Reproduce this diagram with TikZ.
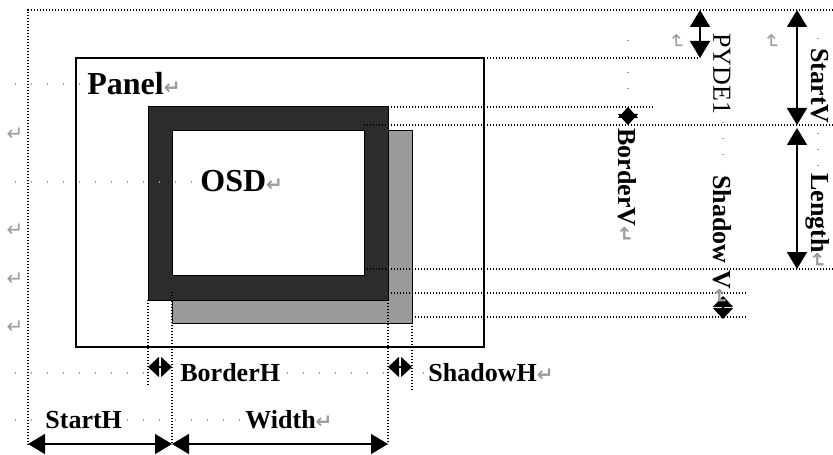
\documentclass[tikz,border=0pt]{standalone}
\usepackage{fontspec}
\setmainfont{Liberation Serif}
\newfontfamily\markfont{DejaVu Sans}
\usetikzlibrary{arrows.meta}
\definecolor{osddark}{HTML}{2C2C2C}
\definecolor{shadowgray}{HTML}{9A9A9A}
\definecolor{markgray}{HTML}{9C9C9C}

\newcommand{\retmark}{{\markfont\color{markgray}\fontsize{10}{10}\selectfont ↵}}

\begin{document}
\begin{tikzpicture}[x=0.5pt, y=-0.5pt,
  dimarr/.style={{Triangle[length=8.5pt,width=10pt]}-{Triangle[length=8.5pt,width=10pt]}, line width=0.8pt},
  tinyarr/.style={{Triangle[length=5.5pt,width=10pt]}-{Triangle[length=5.5pt,width=10pt]}, line width=0.8pt},
  guide/.style={line width=0.7pt, dash pattern=on 0.6pt off 0.9pt},
  leader/.style={markgray, line width=0.8pt, dash pattern=on 0.6pt off 7.4pt},
  lbl/.style={font=\fontsize{13}{15}\selectfont\bfseries, inner sep=0pt, anchor=west},
  biglbl/.style={font=\fontsize{16}{18}\selectfont\bfseries, inner sep=0pt, anchor=west},
  vlbl/.style={lbl, rotate=-90},
  retnode/.style={inner sep=0pt},
]
\useasboundingbox (0,0) rectangle (833,454);

% Outer frame (screen origin)
\draw[guide] (833,10) -- (28,10) -- (28,446);

% Panel
\draw[line width=0.75pt] (76,58) rectangle (484,347);

% OSD window: shadow, border, inner area
\draw[fill=shadowgray, line width=0.5pt] (172,131) rectangle (412,323);
\draw[fill=osddark, line width=0.5pt] (148,107) rectangle (388,300);
\draw[fill=white, line width=0.5pt] (172,131) rectangle (364,275);

% Guide lines
\draw[guide] (484,58) -- (700,58);
\draw[guide] (388,107) -- (654,107);
\draw[guide] (364,125) -- (833,125);
\draw[guide] (367,269) -- (833,269);
\draw[guide] (388,293) -- (747,293);
\draw[guide] (412,317) -- (747,317);
\draw[guide] (148,300) -- (148,386);
\draw[guide] (172,292) -- (172,444);
\draw[guide] (388,300) -- (388,444);
\draw[guide] (412,323) -- (412,390);

% Tab leaders
\draw[leader] (15,84) -- (80,84);
\draw[leader] (15,182) -- (196,182);
\draw[leader] (15,373) -- (146,373);
\draw[leader] (287,373) -- (385,373);
\draw[leader] (423,373) -- (425,373);
\draw[leader] (15,420) -- (40,420);
\draw[leader] (127,420) -- (242,420);
\draw[leader] (628,40) -- (628,100);
\draw[leader] (723,122) -- (723,170);
\draw[leader] (818,38) -- (818,42);
\draw[leader] (818,133) -- (818,170);

% Dimension end points
\coordinate (sh-l) at (28,444);
\coordinate (sh-r) at (172,444);
\coordinate (w-r) at (388,444);
\coordinate (bh-l) at (148,367);
\coordinate (bh-r) at (172,367);
\coordinate (sdh-l) at (388,367);
\coordinate (sdh-r) at (412,367);
\coordinate (py-t) at (700,10);
\coordinate (py-b) at (700,58);
\coordinate (sv-t) at (797,10);
\coordinate (sv-b) at (797,125);
\coordinate (len-t) at (797,128);
\coordinate (len-b) at (797,269);
\coordinate (bv-t) at (628,107);
\coordinate (bv-b) at (628,125);
\coordinate (sdv-t) at (723,296);
\coordinate (sdv-b) at (723,319);

% Dimension arrows
\draw[dimarr] (sh-l) -- (sh-r);
\draw[dimarr] (sh-r) -- (w-r);
\draw[tinyarr] (bh-l) -- (bh-r);
\draw[tinyarr] (sdh-l) -- (sdh-r);
\draw[dimarr] (py-t) -- (py-b);
\draw[dimarr] (sv-t) -- (sv-b);
\draw[dimarr] (len-t) -- (len-b);
\draw[tinyarr] (bv-t) -- (bv-b);
\draw[tinyarr] (sdv-t) -- (sdv-b);

% Labels
\node[biglbl] (panellbl) at (87,84) {Panel\retmark};
\node[biglbl] (osdlbl) at (200,181) {OSD\retmark};
\node[lbl] (bhlbl) at (180,373) {BorderH};
\node[lbl] (sdhlbl) at (428,373) {ShadowH\retmark};
\node[lbl] (shlbl) at (45,420) {StartH};
\node[lbl] (wlbl) at (245,420) {Width\retmark};
\node[vlbl, font=\fontsize{13}{15}\selectfont] (pylbl) at (722,33) {PYDE1};
\node[vlbl] (svlbl) at (820,48) {StartV};
\node[vlbl] (bvlbl) at (627,128) {BorderV\retmark};
\node[vlbl] (sdvlbl) at (722,175) {Shadow V\retmark};
\node[vlbl] (lenlbl) at (818,173) {Length\retmark};

% Paragraph marks
\node[retnode] (r1) at (15,134) {\retmark};
\node[retnode] (r2) at (15,230) {\retmark};
\node[retnode] (r3) at (15,279) {\retmark};
\node[retnode] (r4) at (15,327) {\retmark};
\node[retnode, rotate=-90] (r5) at (677,42) {\retmark};
\node[retnode, rotate=-90] (r6) at (772,42) {\retmark};

\end{tikzpicture}
\end{document}
